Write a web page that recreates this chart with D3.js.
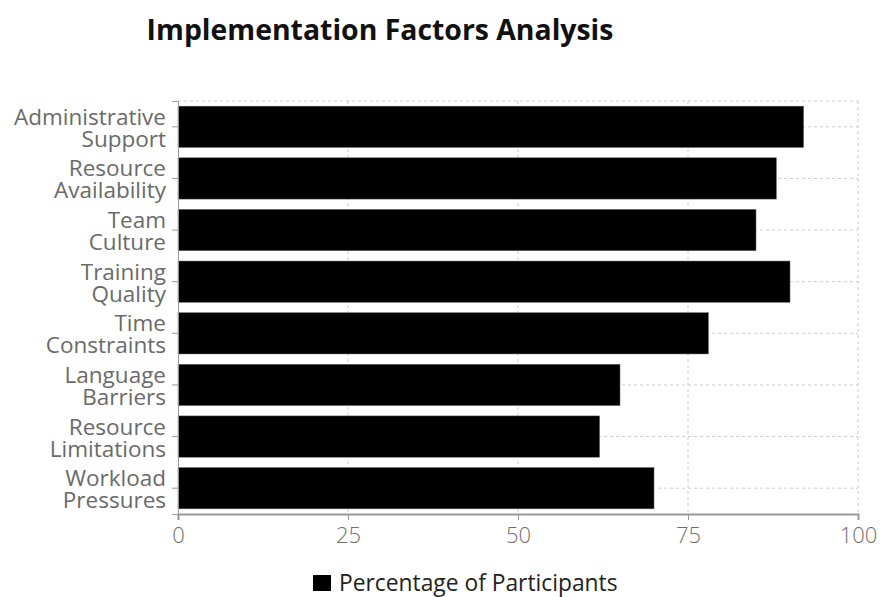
<!DOCTYPE html>
<html><head><meta charset="utf-8">
<script src="https://cdn.jsdelivr.net/npm/d3@7"></script>
<style>body{margin:0;background:#fff;font-family:"Open Sans",sans-serif;}</style>
</head><body><svg id="c" width="880" height="597"></svg>
<script>
const categories = [["Administrative","Support"],["Resource","Availability"],["Team","Culture"],["Training","Quality"],["Time","Constraints"],["Language","Barriers"],["Resource","Limitations"],["Workload","Pressures"]];
const values = [92, 88, 85, 90, 78, 65, 62, 70];
const xTicks = [0, 25, 50, 75, 100];
const seriesName = "Percentage of Participants";
const title = "Implementation Factors Analysis";

const svg = d3.select("#c");
const m = {l:178, r:858, t:101, b:514};
const keys = categories.map(d=>d.join(" "));
const x = d3.scaleLinear().domain([0,100]).range([m.l, m.r]);
const y = d3.scaleBand().domain(keys).range([m.t, m.b]).paddingInner(0.2).paddingOuter(0.1);

// grid
const g = svg.append("g");
g.selectAll(".vg").data(xTicks.slice(1)).enter().append("line")
 .attr("x1",d=>x(d)).attr("x2",d=>x(d)).attr("y1",m.t).attr("y2",m.b)
 .attr("stroke","#ccc").attr("stroke-dasharray","3,3");
g.selectAll(".hg").data(keys).enter().append("line")
 .attr("x1",m.l).attr("x2",m.r).attr("y1",d=>y(d)+y.bandwidth()/2).attr("y2",d=>y(d)+y.bandwidth()/2)
 .attr("stroke","#ccc").attr("stroke-dasharray","3,3");
g.append("line").attr("x1",m.l).attr("x2",m.r).attr("y1",m.t).attr("y2",m.t).attr("stroke","#ccc").attr("stroke-dasharray","3,3");

// bars
svg.selectAll(".bar").data(values).enter().append("rect")
 .attr("x",x(0)).attr("y",(d,i)=>y(keys[i])).attr("width",d=>x(d)-x(0)).attr("height",y.bandwidth())
 .attr("fill","#000").attr("stroke","#666").attr("stroke-width",0.5);

// x axis
const xa = svg.append("g").attr("transform",`translate(0,${m.b})`)
 .call(d3.axisBottom(x).tickValues(xTicks).tickSize(6).tickPadding(7));
xa.selectAll("path,line").attr("stroke","#999");
xa.select(".domain").attr("stroke-width",2);
xa.selectAll("text").attr("fill","#707070").style("font-size","22px").style("font-family","'Open Sans',sans-serif").style("font-weight","300");

// y axis
const ya = svg.append("g").attr("transform",`translate(${m.l},0)`)
 .call(d3.axisLeft(y).tickSize(6).tickFormat(""));
ya.selectAll("path,line").attr("stroke","#999");
ya.selectAll(".tick").each(function(d,i){
  const t = d3.select(this).append("text").attr("x",-12).attr("text-anchor","end")
   .attr("fill","#6a6a6a").style("font-size","22.5px").style("font-family","'Open Sans',sans-serif");
  const lines = categories[i];
  lines.forEach((s,j)=>{
    t.append("tspan").attr("x",-12).attr("y",j*22 - 2).text(s);
  });
});

// title
svg.append("text").attr("x",380).attr("y",40).attr("text-anchor","middle")
 .style("font-size","28.4px").style("font-weight","bold").attr("fill","#111").text(title);

// legend
svg.append("rect").attr("x",313).attr("y",575).attr("width",18).attr("height",16).attr("fill","#000");
svg.append("text").attr("x",339).attr("y",591).attr("fill","#222").style("font-size","22.8px").text(seriesName);
</script></body></html>
